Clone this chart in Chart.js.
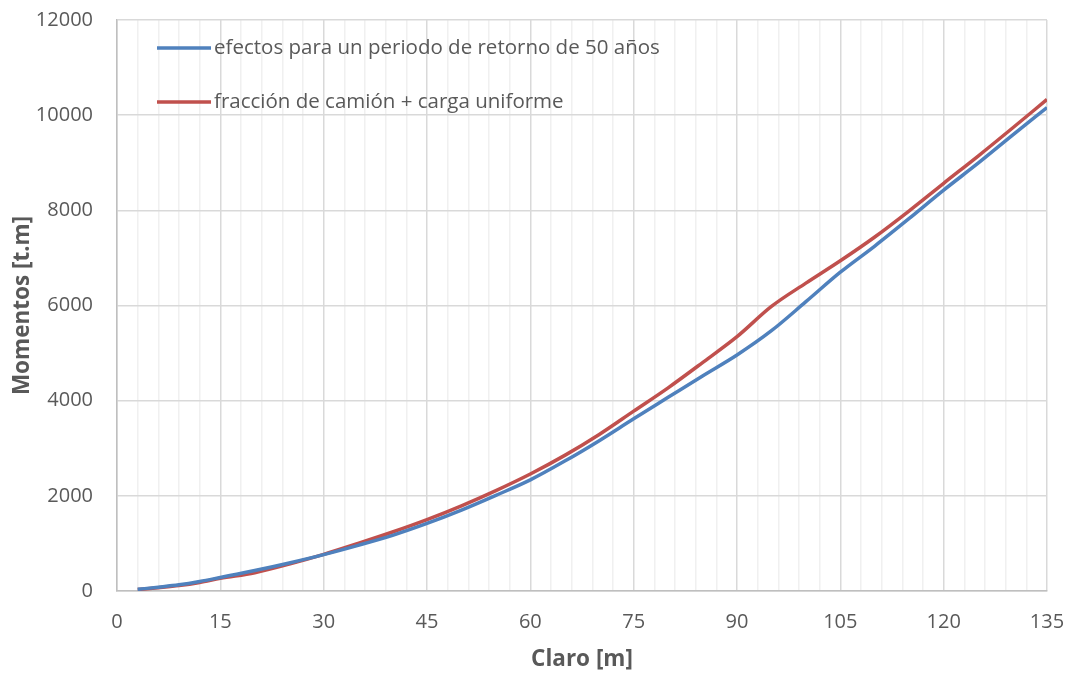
<!DOCTYPE html>
<html>
<head>
<meta charset="utf-8">
<script src="https://cdn.jsdelivr.net/npm/chart.js@4"></script>
<style>
  body { margin: 0; background: #fff; }
  #wrap { width: 1069px; height: 677px; }
</style>
</head>
<body>
<div id="wrap"><canvas id="momentChart"></canvas></div>
<script>
// claro [m]
const claro = [3, 6, 9, 12, 15, 20, 25, 30, 35, 40, 45, 50, 55, 60, 65, 70, 75, 80, 85, 90, 95, 100, 105, 110, 115, 120, 125, 130, 135];
// efectos para un periodo de retorno de 50 años
const efectos50 = [35, 80, 130, 200, 285, 430, 590, 765, 960, 1170, 1420, 1700, 2010, 2335, 2730, 3160, 3620, 4070, 4520, 4960, 5470, 6080, 6700, 7250, 7830, 8425, 8990, 9580, 10160];
// fracción de camión + carga uniforme
const fraccionCamion = [30, 70, 115, 180, 266, 385, 565, 771, 1000, 1240, 1500, 1790, 2110, 2459, 2850, 3290, 3780, 4270, 4800, 5345, 5980, 6470, 6940, 7440, 7990, 8568, 9140, 9730, 10330];

const xTicks = [0, 15, 30, 45, 60, 75, 90, 105, 120, 135];
const yTicks = [0, 2000, 4000, 6000, 8000, 10000, 12000];

const textColor = '#595959';
const fontName = '"Open Sans", sans-serif';

function toPoints(xs, ys) {
    return xs.map((x, i) => ({ x: x, y: ys[i] }));
}

// legend drawn inside the plot area, top left
const insideLegend = {
    id: 'insideLegend',
    afterDraw(chart) {
        const ctx = chart.ctx;
        const area = chart.chartArea;
        ctx.save();
        ctx.font = '20.5px ' + fontName;
        ctx.textBaseline = 'middle';
        chart.data.datasets.forEach((ds, i) => {
            const y = area.top + 28 + i * 54;
            const x0 = area.left + 40;
            ctx.strokeStyle = ds.borderColor;
            ctx.lineWidth = 3.5;
            ctx.beginPath();
            ctx.moveTo(x0, y);
            ctx.lineTo(x0 + 54, y);
            ctx.stroke();
            ctx.fillStyle = textColor;
            ctx.fillText(ds.label, x0 + 57, y);
        });
        ctx.restore();
    }
};

const ctx = document.getElementById('momentChart').getContext('2d');
const momentChart = new Chart(ctx, {
    type: 'line',
    data: {
        datasets: [
            {
                label: 'efectos para un periodo de retorno de 50 años',
                data: toPoints(claro, efectos50),
                borderColor: '#4f81bd',
                borderWidth: 3.5,
                pointRadius: 0,
                fill: false,
                cubicInterpolationMode: 'monotone'
            },
            {
                label: 'fracción de camión + carga uniforme',
                data: toPoints(claro, fraccionCamion),
                borderColor: '#c0504d',
                borderWidth: 3.5,
                pointRadius: 0,
                fill: false,
                cubicInterpolationMode: 'monotone'
            }
        ]
    },
    options: {
        responsive: true,
        maintainAspectRatio: false,
        animation: false,
        layout: { padding: { top: 20, right: 22, left: 0, bottom: 0 } },
        plugins: {
            legend: { display: false },
            tooltip: { enabled: false }
        },
        scales: {
            x: {
                type: 'linear',
                min: 0,
                max: 135,
                afterBuildTicks(scale) {
                    const t = [];
                    for (let v = 0; v <= 135; v += 3) t.push({ value: v });
                    scale.ticks = t;
                },
                afterFit(scale) {
                    scale.height = 86;
                    scale.paddingLeft = 0;
                    scale.paddingRight = 0;
                },
                ticks: {
                    autoSkip: false,
                    maxRotation: 0,
                    color: textColor,
                    font: { family: fontName, size: 20 },
                    padding: 19,
                    callback: v => xTicks.includes(v) ? String(v) : ''
                },
                grid: {
                    color: c => xTicks.includes(c.tick.value) ? '#d9d9d9' : '#f0f0f0',
                    lineWidth: 1.5,
                    drawTicks: false
                },
                border: { color: '#bfbfbf', width: 1.5 },
                title: {
                    display: true,
                    text: 'Claro [m]',
                    color: textColor,
                    font: { family: fontName, size: 22.5, weight: 'bold' },
                    padding: { top: 0 }
                }
            },
            y: {
                min: 0,
                max: 12000,
                afterBuildTicks(scale) {
                    scale.ticks = yTicks.map(v => ({ value: v }));
                },
                afterFit(scale) {
                    scale.width = 117;
                    scale.paddingTop = 0;
                    scale.paddingBottom = 0;
                },
                ticks: {
                    color: textColor,
                    font: { family: fontName, size: 20 },
                    padding: 24,
                    callback: v => String(v)
                },
                grid: { color: '#d9d9d9', lineWidth: 1.5, drawTicks: false },
                border: { color: '#bfbfbf', width: 1.5 },
                title: {
                    display: true,
                    text: 'Momentos [t.m]',
                    color: textColor,
                    font: { family: fontName, size: 22.5, weight: 'bold' },
                    padding: { top: 9, bottom: 0 }
                }
            }
        }
    },
    plugins: [insideLegend]
});
</script>
</body>
</html>
